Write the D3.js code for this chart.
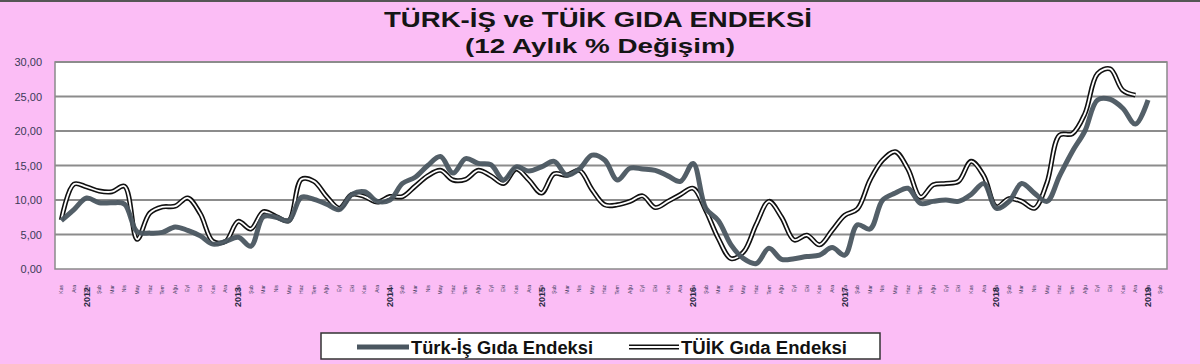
<!DOCTYPE html>
<html>
<head>
<meta charset="utf-8">
<script src="https://cdn.jsdelivr.net/npm/d3@7"></script>
<style>
  html, body { margin: 0; padding: 0; background: #fbbdf5; }
  svg { display: block; }
  text { font-family: "Liberation Sans", Arial, sans-serif; }
</style>
</head>
<body>
<svg id="chart"></svg>
<script>
// month names used for the category axis
const monthNames = ["Oca", "Şub", "Mar", "Nis", "May", "Haz", "Tem", "Ağu", "Eyl", "Eki", "Kas", "Ara"];
const yearLabels = ["2012", "2013", "2014", "2015", "2016", "2017", "2018", "2019"];
const yTicks = [0, 5, 10, 15, 20, 25, 30];

// 12-month % change, Kasım 2011 .. Ocak 2019
const turkIs = [
  7.0, 8.6, 10.3, 9.6, 9.6, 9.4, 5.4, 5.2, 5.3, 6.1, 5.6, 4.8,
  3.6, 4.0, 4.6, 3.3, 7.6, 7.5, 7.0, 10.4, 10.1, 9.4, 8.6, 10.8,
  11.2, 9.8, 10.0, 12.4, 13.3, 15.0, 16.3, 13.9, 16.0, 15.3, 15.1, 12.9,
  14.8, 14.2, 14.8, 15.6, 13.6, 14.5, 16.5, 15.8, 12.9, 14.6, 14.5, 14.3,
  13.5, 12.7, 15.3, 8.8, 7.0, 3.5, 1.5, 0.8, 3.0, 1.4, 1.5, 1.8,
  2.0, 3.1, 2.0, 6.4, 5.8, 10.0, 11.0, 11.7, 9.5, 9.8, 10.0, 9.8,
  10.8, 12.4, 8.8, 9.8, 12.4, 11.0, 9.8, 13.5, 17.0, 20.0, 24.5, 24.6,
  23.3, 21.0, 24.5
];
const tuik = [
  7.1, 12.3, 11.9, 11.3, 11.2, 12.0, 4.3, 8.1, 9.0, 9.1, 10.3, 8.0,
  4.0, 4.0, 6.9, 5.8, 8.3, 7.6, 7.0, 13.0, 12.7, 10.5, 8.8, 10.8,
  10.5, 9.7, 10.5, 10.5, 12.0, 13.5, 14.3, 12.9, 13.0, 14.3, 13.5, 12.4,
  14.5, 12.9, 11.0, 13.8, 13.6, 14.3, 11.5, 9.3, 9.3, 9.8, 10.6, 8.9,
  9.8, 10.8, 11.7, 8.5, 4.4, 1.5, 2.5, 6.5, 9.8, 7.5, 4.2, 4.9,
  3.5, 5.6, 7.8, 8.7, 12.9, 15.8, 17.0, 14.5, 10.4, 12.2, 12.4, 12.7,
  15.6, 13.5, 9.0, 10.2, 9.8, 8.8, 12.5, 19.4, 19.6, 22.5, 28.3, 29.0,
  25.9, 25.2, null
];

const width = 1200;
const height = 364;
const plot = { left: 55, right: 1167, top: 62, bottom: 269 };

// categories: Kas 2011 .. Şub 2019 (last one empty)
let categories = [];
for (let i = 0; i < 88; i++) {
    let m = (10 + i) % 12;
    let y = 2011 + Math.floor((10 + i) / 12);
    categories.push({ key: y + "-" + m, month: monthNames[m], year: y, m: m });
}

let svg = d3.select("#chart")
    .attr("width", width)
    .attr("height", height);

// dark strip along the top edge
svg.append("rect").attr("x", 0).attr("y", 0).attr("width", width).attr("height", 2).attr("fill", "#555");

// titles (wide, as in the original)
svg.append("text")
    .attr("x", 598).attr("y", 27)
    .attr("text-anchor", "middle")
    .attr("font-size", 22).attr("font-weight", "bold").attr("fill", "#151515")
    .attr("textLength", 428).attr("lengthAdjust", "spacingAndGlyphs")
    .text("TÜRK-İŞ ve TÜİK GIDA ENDEKSİ");
svg.append("text")
    .attr("x", 600).attr("y", 53)
    .attr("text-anchor", "middle")
    .attr("font-size", 21).attr("font-weight", "bold").attr("fill", "#151515")
    .attr("textLength", 270).attr("lengthAdjust", "spacingAndGlyphs")
    .text("(12 Aylık % Değişim)");

let x = d3.scaleBand()
    .domain(categories.map(d => d.key))
    .range([plot.left, plot.right]);

let y = d3.scaleLinear()
    .domain([0, 30])
    .range([plot.bottom, plot.top]);

let cx = i => x(categories[i].key) + x.bandwidth() / 2;

// plot area
svg.append("rect")
    .attr("x", plot.left).attr("y", plot.top)
    .attr("width", plot.right - plot.left).attr("height", plot.bottom - plot.top)
    .attr("fill", "#fff").attr("stroke", "#8a8a8a").attr("stroke-width", 1.5);

// gridlines
svg.append("g")
    .selectAll("line")
    .data(yTicks.slice(1))
    .enter().append("line")
    .attr("x1", plot.left).attr("x2", plot.right)
    .attr("y1", d => y(d)).attr("y2", d => y(d))
    .attr("stroke", "#8c8c8c").attr("stroke-width", 2);

// y axis labels
let yAxis = d3.axisLeft(y)
    .tickValues(yTicks)
    .tickSize(0)
    .tickPadding(13)
    .tickFormat(d => d3.format(".2f")(d).replace(".", ","));
let yg = svg.append("g")
    .attr("transform", "translate(" + plot.left + ",0)")
    .call(yAxis);
yg.select(".domain").remove();
yg.selectAll("text")
    .attr("font-size", 11).attr("fill", "#3a3a58")
    .attr("font-family", "DejaVu Sans, sans-serif");

// x axis: tiny month labels
let xAxis = d3.axisBottom(x)
    .tickSize(0)
    .tickFormat((d, i) => categories[i].month);
let xg = svg.append("g")
    .attr("transform", "translate(0," + plot.bottom + ")")
    .call(xAxis);
xg.select(".domain").remove();
xg.selectAll("text")
    .attr("font-size", 5).attr("fill", "#3a3a5a")
    .attr("font-family", "Liberation Sans, Arial, sans-serif")
    .attr("text-anchor", "end")
    .attr("dy", "0.35em")
    .attr("transform", "translate(0,3) rotate(-90)")
    .attr("x", -13).attr("y", 0);

// year labels under each January
let jan = categories.map((d, i) => ({ d: d, i: i })).filter(o => o.d.m === 0);
svg.append("g")
    .selectAll("text")
    .data(jan)
    .enter().append("text")
    .attr("transform", o => "translate(" + (cx(o.i) + 3) + ",307) rotate(-90)")
    .attr("font-size", 9).attr("font-weight", "bold").attr("fill", "#2b2b45")
    .text((o, k) => yearLabels[k]);

// lines
let line = d3.line()
    .defined(d => d != null)
    .x((d, i) => cx(i))
    .y(d => y(d))
    .curve(d3.curveCatmullRom.alpha(0.5));

let lines = svg.append("g");
lines.append("path")
    .attr("d", line(tuik))
    .attr("fill", "none").attr("stroke", "#111").attr("stroke-width", 5)
    .attr("stroke-linejoin", "round");
lines.append("path")
    .attr("d", line(tuik))
    .attr("fill", "none").attr("stroke", "#fff").attr("stroke-width", 1.8)
    .attr("stroke-linejoin", "round");
lines.append("path")
    .attr("d", line(turkIs))
    .attr("fill", "none").attr("stroke", "#4a5660").attr("stroke-width", 5)
    .attr("stroke-linejoin", "round").attr("stroke-opacity", 0.95);

// legend
let legend = svg.append("g");
legend.append("rect")
    .attr("x", 321).attr("y", 333).attr("width", 559).attr("height", 26)
    .attr("fill", "#fff").attr("stroke", "#333").attr("stroke-width", 1.5);
legend.append("line")
    .attr("x1", 357).attr("x2", 409).attr("y1", 347).attr("y2", 347)
    .attr("stroke", "#4a5660").attr("stroke-width", 5);
legend.append("text")
    .attr("x", 411).attr("y", 354)
    .attr("font-size", 18).attr("font-weight", "bold").attr("fill", "#111")
    .attr("textLength", 182).attr("lengthAdjust", "spacingAndGlyphs")
    .text("Türk-İş Gıda Endeksi");
legend.append("line")
    .attr("x1", 629).attr("x2", 679).attr("y1", 347).attr("y2", 347)
    .attr("stroke", "#111").attr("stroke-width", 5);
legend.append("line")
    .attr("x1", 629).attr("x2", 679).attr("y1", 347).attr("y2", 347)
    .attr("stroke", "#fff").attr("stroke-width", 1.8);
legend.append("text")
    .attr("x", 681).attr("y", 354)
    .attr("font-size", 18).attr("font-weight", "bold").attr("fill", "#111")
    .attr("textLength", 166).attr("lengthAdjust", "spacingAndGlyphs")
    .text("TÜİK Gıda Endeksi");
</script>
</body>
</html>
